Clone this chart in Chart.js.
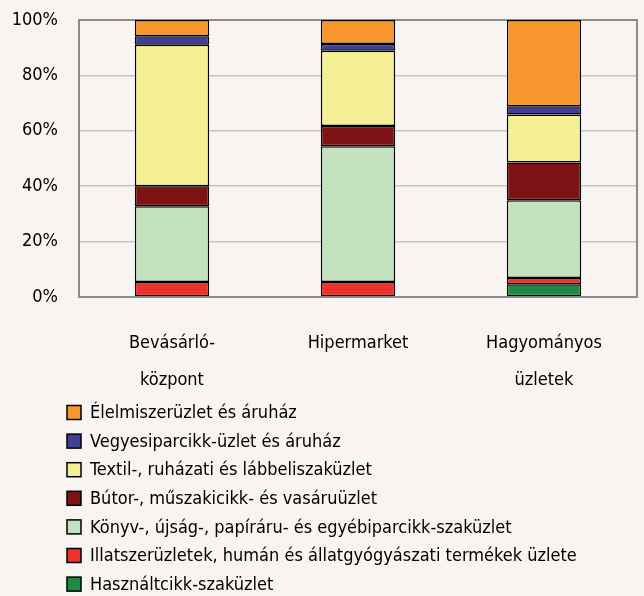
<!DOCTYPE html>
<html>
<head>
<meta charset="utf-8">
<script src="https://cdn.jsdelivr.net/npm/chart.js@4.4.1/dist/chart.umd.min.js"></script>
<style>
  html, body { margin: 0; padding: 0; background: #F7F4F1; }
  #wrap { width: 644px; height: 596px; }
</style>
</head>
<body>
<div id="wrap"><canvas id="c" width="644" height="596"></canvas></div>
<script>
const categories = [['Bevásárló-', 'központ'], 'Hipermarket', ['Hagyományos', 'üzletek']];
const seriesNames = [
  'Használtcikk-szaküzlet',
  'Illatszerüzletek, humán és állatgyógyászati termékek üzlete',
  'Könyv-, újság-, papíráru- és egyébiparcikk-szaküzlet',
  'Bútor-, műszakicikk- és vasáruüzlet',
  'Textil-, ruházati és lábbeliszaküzlet',
  'Vegyesiparcikk-üzlet és áruház',
  'Élelmiszerüzlet és áruház'
];
const hasznaltcikk = [0, 0, 4.6];
const illatszer   = [5.4, 5.4, 2.3];
const konyv       = [27.4, 49.0, 28.0];
const butor       = [7.2, 7.3, 13.7];
const textil      = [51.1, 27.2, 17.3];
const vegyes      = [3.0, 2.4, 3.0];
const elelmiszer  = [5.9, 8.7, 31.1];
const yTickValues = [0, 20, 40, 60, 80, 100];

const seriesValues = [hasznaltcikk, illatszer, konyv, butor, textil, vegyes, elelmiszer];
const seriesColors = ['#1F8A43', '#EE3129', '#C5E2C0', '#7D1315', '#F5F096', '#3F3F96', '#F7962D'];

const FONT = "'Liberation Sans Narrow', 'Arial Narrow', 'DejaVu Sans Condensed', sans-serif";
const FSIZE = 18;

const framePlugin = {
  id: 'frame',
  beforeDatasetsDraw(chart) {
    const {ctx, chartArea: a} = chart;
    ctx.save();
    ctx.strokeStyle = '#8C8C8C';
    ctx.lineWidth = 2;
    ctx.strokeRect(a.left, a.top, a.right - a.left, a.bottom - a.top);
    ctx.restore();
  }
};

const legendPlugin = {
  id: 'vlegend',
  afterDraw(chart) {
    const {ctx} = chart;
    const ds = chart.data.datasets.slice().reverse();
    ctx.save();
    ctx.font = FSIZE + 'px ' + FONT;
    ctx.textBaseline = 'middle';
    ctx.textAlign = 'left';
    const x0 = 67, y0 = 412.5, step = 28.6, box = 14;
    ds.forEach((d, i) => {
      const y = y0 + i * step;
      ctx.fillStyle = d.backgroundColor;
      ctx.fillRect(x0, y - box / 2, box, box);
      ctx.strokeStyle = '#000';
      ctx.lineWidth = 1.5;
      ctx.strokeRect(x0, y - box / 2, box, box);
      ctx.fillStyle = '#000';
      ctx.fillText(d.label, x0 + 23, y + 1);
    });
    ctx.restore();
  }
};

new Chart(document.getElementById('c'), {
  type: 'bar',
  data: {
    labels: categories,
    datasets: seriesNames.map((name, i) => ({
      label: name,
      data: seriesValues[i],
      backgroundColor: seriesColors[i],
      borderColor: '#000000',
      borderWidth: 1.5,
      borderSkipped: false,
      categoryPercentage: 1.0,
      barPercentage: 0.4
    }))
  },
  options: {
    responsive: false,
    animation: false,
    layout: { padding: { top: 20, right: 7, left: 0, bottom: 0 } },
    plugins: {
      legend: { display: false },
      tooltip: { enabled: false }
    },
    scales: {
      x: {
        stacked: true,
        grid: { display: false, drawTicks: false },
        border: { display: false },
        ticks: {
          padding: 28,
          color: '#000',
          font: { family: FONT, size: FSIZE, lineHeight: '37px' },
          maxRotation: 0
        },
        afterFit(s) { s.height = 299; }
      },
      y: {
        stacked: true,
        min: 0,
        max: 100,
        afterBuildTicks(s) { s.ticks = yTickValues.map(v => ({ value: v })); },
        grid: {
          color: '#C4C4C4',
          lineWidth: 1.5,
          drawTicks: false
        },
        border: { display: false },
        ticks: {
          padding: 21,
          color: '#000',
          font: { family: FONT, size: FSIZE },
          callback: v => v + '%'
        },
        afterFit(s) { s.width = 79; s.paddingTop = 0; s.paddingBottom = 0; }
      }
    }
  },
  plugins: [framePlugin, legendPlugin]
});
</script>
</body>
</html>
